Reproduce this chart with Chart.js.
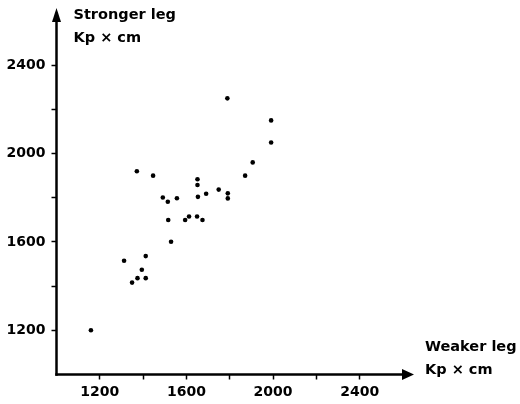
<!DOCTYPE html>
<html>
<head>
<meta charset="utf-8">
<script src="https://cdn.jsdelivr.net/npm/chart.js@4.4.1/dist/chart.umd.min.js"></script>
<style>
  html, body { margin: 0; padding: 0; background: #ffffff; }
  #wrap { width: 520px; height: 404px; }
</style>
</head>
<body>
<div id="wrap"><canvas id="c" width="520" height="404"></canvas></div>
<script>
// Weaker leg (x) and stronger leg (y), Kp × cm
const weakerLeg   = [1159, 1312, 1349, 1374, 1394, 1412, 1412, 1371, 1446, 1491, 1514, 1516, 1529, 1556, 1594, 1612, 1649, 1651, 1651, 1653, 1674, 1691, 1749, 1791, 1791, 1789, 1871, 1906, 1991, 1991];
const strongerLeg = [1200, 1515, 1416, 1436, 1474, 1436, 1536, 1920, 1900, 1801, 1782, 1699, 1601, 1798, 1699, 1715, 1715, 1884, 1858, 1804, 1699, 1818, 1837, 1820, 1797, 2250, 1900, 1960, 2050, 2150];

const xTickLabels = [1200, 1600, 2000, 2400];
const yTickLabels = [1200, 1600, 2000, 2400];
const axisMin = 1000;
const axisMax = 2600;
const tickStep = 200;

const yTitle = ['Stronger leg', 'Kp \u00d7 cm'];
const xTitle = ['Weaker leg', 'Kp \u00d7 cm'];

const FONT = "'DejaVu Sans', sans-serif";

const points = weakerLeg.map((x, i) => ({ x: x, y: strongerLeg[i] }));

const tickColorFn = (ctx) => {
  const v = ctx.tick && ctx.tick.value;
  return (v === axisMin || v === axisMax) ? 'rgba(0,0,0,0)' : '#000';
};

const axesPlugin = {
  id: 'axesArrows',
  afterDraw(chart) {
    const c = chart.ctx;
    const a = chart.chartArea;
    c.save();
    c.strokeStyle = '#000';
    c.fillStyle = '#000';
    c.lineWidth = 2.5;
    c.lineCap = 'butt';
    // y axis
    c.beginPath();
    c.moveTo(a.left, a.bottom + 1.2);
    c.lineTo(a.left, a.top);
    c.stroke();
    // x axis
    c.beginPath();
    c.moveTo(a.left - 1.2, a.bottom);
    c.lineTo(a.right, a.bottom);
    c.stroke();
    // y arrowhead
    c.beginPath();
    c.moveTo(a.left, a.top - 13);
    c.lineTo(a.left - 4.5, a.top + 1);
    c.lineTo(a.left + 4.5, a.top + 1);
    c.closePath();
    c.fill();
    // x arrowhead
    c.beginPath();
    c.moveTo(a.right + 11, a.bottom);
    c.lineTo(a.right - 1, a.bottom - 5.5);
    c.lineTo(a.right - 1, a.bottom + 5.5);
    c.closePath();
    c.fill();
    // titles
    c.font = "bold 14.5px " + FONT;
    c.textAlign = 'left';
    c.textBaseline = 'alphabetic';
    c.fillText(yTitle[0], a.left + 17, 18.5);
    c.fillText(yTitle[1], a.left + 17, 41.5);
    c.fillText(xTitle[0], a.right + 22, 351);
    c.fillText(xTitle[1], a.right + 22, 373.5);
    c.restore();
  }
};

new Chart(document.getElementById('c'), {
  type: 'scatter',
  data: {
    datasets: [{
      data: points,
      backgroundColor: '#000',
      borderColor: '#000',
      borderWidth: 0,
      pointRadius: 2.3,
      pointHoverRadius: 2.3
    }]
  },
  options: {
    responsive: false,
    animation: false,
    devicePixelRatio: 1,
    layout: { padding: { left: 0, right: 117, top: 21, bottom: 0 } },
    plugins: { legend: { display: false }, tooltip: { enabled: false } },
    scales: {
      x: {
        type: 'linear',
        min: axisMin,
        max: axisMax,
        border: { display: false },
        grid: { drawOnChartArea: false, drawTicks: true, tickLength: 5, tickWidth: 1.5, tickColor: tickColorFn },
        ticks: {
          stepSize: tickStep,
          autoSkip: false,
          maxRotation: 0,
          padding: 4,
          color: '#000',
          font: { family: FONT, size: 14, weight: 'bold' },
          callback: (v) => xTickLabels.includes(v) ? String(v) : ''
        },
        afterFit: (s) => { s.height = 29.5; }
      },
      y: {
        type: 'linear',
        min: axisMin,
        max: axisMax,
        border: { display: false },
        grid: { drawOnChartArea: false, drawTicks: true, tickLength: 5, tickWidth: 1.5, tickColor: tickColorFn },
        ticks: {
          stepSize: tickStep,
          autoSkip: false,
          padding: 6,
          color: '#000',
          font: { family: FONT, size: 14, weight: 'bold' },
          callback: (v) => yTickLabels.includes(v) ? String(v) : ''
        },
        afterFit: (s) => { s.width = 56.5; }
      }
    }
  },
  plugins: [axesPlugin]
});
</script>
</body>
</html>
